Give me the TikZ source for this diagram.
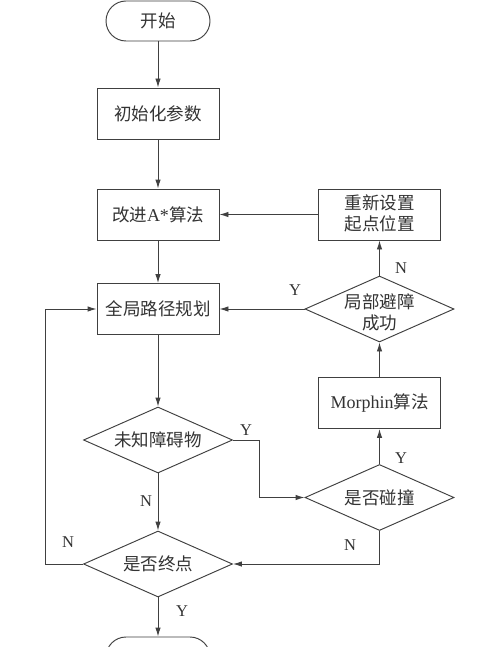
\documentclass[tikz,border=0pt]{standalone}
\usepackage{fontspec}
\setmainfont{Liberation Serif}
\newfontfamily\cjk{Noto Sans CJK SC}
\usetikzlibrary{shapes.geometric,arrows.meta}
\begin{document}
\begin{tikzpicture}[x=1pt,y=-1pt,
  lw/.style={draw=black!75, line width=0.95pt},
  arr/.style={lw, -{Latex[length=9pt,width=5.5pt]}},
  box/.style={lw, rectangle, minimum width=122pt, minimum height=51pt, inner sep=0pt},
  dia/.style={lw, diamond, minimum width=149pt, minimum height=66pt, inner sep=0pt},
  term/.style={lw, rectangle, rounded corners=20pt, minimum width=104pt, minimum height=40pt, inner sep=0pt},
  txt/.style={font=\fontsize{17.5}{21}\selectfont\cjk, align=center, inner sep=0pt, text=black!80},
  lab/.style={font=\fontsize{16.5}{20}\selectfont, inner sep=0pt, text=black!80}
]
\useasboundingbox (0,0) rectangle (500,647);
\fill[white] (0,0) rectangle (500,647);
\clip (0,0) rectangle (500,647);

% nodes
\node[term] (start) at (158,21) {};
\node[txt] (startt) at (start) {开始};
\node[box] (init) at (158,113.5) {};
\node[txt] (initt) at (init) {初始化参数};
\node[box] (astar) at (158,214.5) {};
\node[txt] (astart) at (astar) {改进{\rmfamily\fontsize{18}{21}\selectfont A*}算法};
\node[box] (reset) at (379.5,214.5) {};
\node[txt] (resett) at (379.5,213.5) {重新设置\\起点位置};
\node[box] (global) at (158,309) {};
\node[txt] (globalt) at (global) {全局路径规划};
\node[dia] (local) at (379.5,309) {};
\node[txt] (localt) at (379.5,312) {局部避障\\成功};
\node[box] (morph) at (379.5,403) {};
\node[txt] (morpht) at (morph) {{\rmfamily\fontsize{18}{21}\selectfont Morphin}算法};
\node[dia] (unk) at (158,440) {};
\node[txt] (unkt) at (unk) {未知障碍物};
\node[dia] (coll) at (379.5,497.5) {};
\node[txt] (collt) at (coll) {是否碰撞};
\node[dia] (goal) at (158,564) {};
\node[txt] (goalt) at (goal) {是否终点};
\node[term] (end) at (158,657) {};

\coordinate (c1) at (259,440);
\coordinate (c2) at (259,497.5);
\coordinate (c3) at (379.5,564);
\coordinate (c4) at (45,564);
\coordinate (c5) at (45,309);

% connectors
\draw[arr] (start.south) -- (init.north);
\draw[arr] (init.south) -- (astar.north);
\draw[arr] (astar.south) -- (global.north);
\draw[arr] (global.south) -- (unk.north);
\draw[arr] (unk.south) -- (goal.north);
\draw[arr] (goal.south) -- (end.north);
\draw[arr] (unk.east) -- (c1) -- (c2) -- (coll.west);
\draw[arr] (coll.north) -- (morph.south);
\draw[arr] (morph.north) -- (local.south);
\draw[arr] (local.north) -- (reset.south);
\draw[arr] (reset.west) -- (astar.east);
\draw[arr] (local.west) -- (global.east);
\draw[arr] (coll.south) -- (c3) -- (goal.east);
\draw[arr] (goal.west) -- (c4) -- (c5) -- (global.west);

% labels
\node[lab] (l1) at (295,290) {Y};
\node[lab] (l2) at (401,268) {N};
\node[lab] (l3) at (246,430) {Y};
\node[lab] (l4) at (401,458) {Y};
\node[lab] (l5) at (146,501) {N};
\node[lab] (l6) at (350,545) {N};
\node[lab] (l7) at (68,542) {N};
\node[lab] (l8) at (182,611) {Y};
\end{tikzpicture}
\end{document}
